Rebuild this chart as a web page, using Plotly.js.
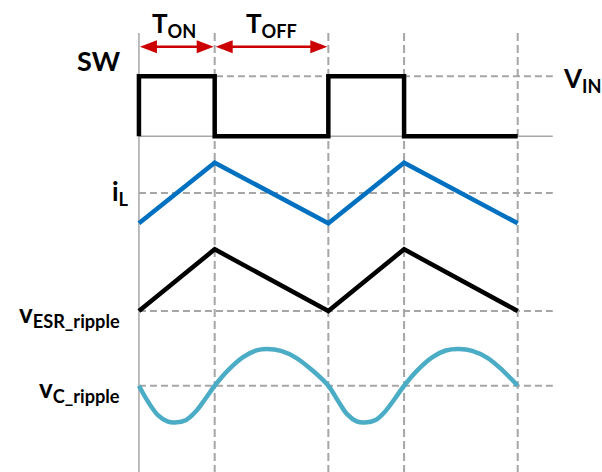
<!DOCTYPE html>
<html>
<head>
<meta charset="utf-8">
<script src="https://cdn.plot.ly/plotly-3.0.1.min.js"></script>
<style>html,body{margin:0;padding:0;background:#fff;}#chart{width:602px;height:472px;}</style>
</head>
<body>
<div id="chart"></div>
<script>
// ---- data ----
const switchTimes = [0, 0.4, 1.0, 1.4, 2.0];          // switching instants (T_ON = 0.4 of the period)
const swTime  = [0, 0, 0.4, 1.0, 1.4, 2.0];
const swLevel = [0, 1, 0, 1, 0, 0];                    // 1 = V_IN
const iLTime  = [0, 0.4, 1.0, 1.4, 2.0];
const iLValue = [0.8, 1.2, 0.8, 1.2, 0.8];
const esrTime = [0, 0.4, 1.0, 1.4, 2.0];
const esrValue = [0, 1, 0, 1, 0];
const vcTime  = [0, 0.05, 0.1, 0.15, 0.19, 0.25, 0.3, 0.35, 0.4, 0.47, 0.55, 0.62, 0.675, 0.75, 0.83, 0.92, 1.0,
                 1.05, 1.1, 1.15, 1.193, 1.25, 1.3, 1.35, 1.4, 1.47, 1.55, 1.62, 1.69, 1.76, 1.84, 1.92, 2.0];
const vcValue = [0, -0.45, -0.8, -0.97, -1, -0.93, -0.7, -0.36, 0, 0.42, 0.78, 0.96, 1, 0.95, 0.76, 0.4, 0,
                 -0.4, -0.78, -0.97, -1, -0.93, -0.7, -0.36, 0, 0.42, 0.78, 0.96, 1, 0.95, 0.76, 0.42, 0];
const refLevels = {sw: 1, iL: 1.0, esr: 0, vc: 0};    // dashed reference lines
const swLow = 0;
const lineEnd = 2.185;

// ---- layout geometry ----
const W = 602, H = 472;
const k = 189.5, x0px = 139;
const xRange = [-0.1, 2.35];
const L = x0px + xRange[0] * k;
const plotW = (xRange[1] - xRange[0]) * k;
const R = W - L - plotW;
function dom(v1, p1, v2, p2, lo, hi) {
  const m = (p1 - p2) / (v2 - v1);
  const pLo = p1 + (v1 - lo) * m, pHi = p1 - (hi - v1) * m;
  return [1 - pLo / H, 1 - pHi / H];
}
const px = x => (x - L) / plotW;
const py = y => 1 - y / H;

const FONT = 'Lato, "Open Sans", sans-serif';
const GRAY = '#A6A6A6';
const RED = '#CC0000';

const traces = [
  {x: swTime, y: swLevel, type: 'scatter', mode: 'lines', line: {shape: 'hv', color: '#000', width: 4.5}, xaxis: 'x', yaxis: 'y'},
  {x: iLTime, y: iLValue, type: 'scatter', mode: 'lines', line: {color: '#0070C0', width: 4.5}, xaxis: 'x', yaxis: 'y2'},
  {x: esrTime, y: esrValue, type: 'scatter', mode: 'lines', line: {color: '#000', width: 4.5}, xaxis: 'x', yaxis: 'y3'},
  {x: vcTime, y: vcValue, type: 'scatter', mode: 'lines', line: {shape: 'spline', smoothing: 1, color: '#4BACC6', width: 4.5}, xaxis: 'x', yaxis: 'y4'}
];

const hid = {visible: false, showgrid: false, zeroline: false, fixedrange: true};
const shapes = [];
// solid left axis and SW low line
shapes.push({type: 'line', xref: 'x', yref: 'paper', x0: switchTimes[0], x1: switchTimes[0], y0: py(33), y1: 0, line: {color: GRAY, width: 1.5}, layer: 'below'});
shapes.push({type: 'line', xref: 'x', yref: 'y', x0: switchTimes[0], x1: lineEnd, y0: swLow, y1: swLow, line: {color: GRAY, width: 1.5}, layer: 'below'});
// dashed verticals
switchTimes.slice(1).forEach(t => shapes.push({type: 'line', xref: 'x', yref: 'paper', x0: t, x1: t, y0: py(33), y1: 0, line: {color: GRAY, width: 2, dash: '8px,4px'}, layer: 'below'}));
// dashed horizontals
[['y', refLevels.sw], ['y2', refLevels.iL], ['y3', refLevels.esr], ['y4', refLevels.vc]].forEach(([ax, v]) =>
  shapes.push({type: 'line', xref: 'x', yref: ax, x0: switchTimes[0], x1: lineEnd, y0: v, y1: v, line: {color: GRAY, width: 2, dash: '7px,4px'}, layer: 'below'}));

// double arrows for T_ON and T_OFF (line + triangular heads)
const arrowY = py(46.7);
const headL = 17 / k, headH = 6.5 / H, gap = 1 / k;
[[switchTimes[0], switchTimes[1]], [switchTimes[1], switchTimes[2]]].forEach(([a, b]) => {
  const s = a + gap, e = b - gap;
  shapes.push({type: 'line', xref: 'x', yref: 'paper', x0: s + headL * 0.8, x1: e - headL * 0.8, y0: arrowY, y1: arrowY, line: {color: RED, width: 2.5}});
  shapes.push({type: 'path', xref: 'x', yref: 'paper', path: `M${s},${arrowY} L${s + headL},${arrowY + headH} L${s + headL},${arrowY - headH} Z`, fillcolor: RED, line: {width: 0}});
  shapes.push({type: 'path', xref: 'x', yref: 'paper', path: `M${e},${arrowY} L${e - headL},${arrowY + headH} L${e - headL},${arrowY - headH} Z`, fillcolor: RED, line: {width: 0}});
});

const ann = [];
function label(text, xp, yp, xanchor, size) {
  ann.push({text: text, xref: 'paper', yref: 'paper', x: px(xp), y: py(yp), xanchor: xanchor, yanchor: 'middle', showarrow: false, font: {family: FONT, size: size, color: '#000'}});
}
label('<b>SW</b>', 99, 61, 'center', 27);
label('<b>T<sub>ON</sub></b>', 150, 25, 'left', 26);
label('<b>T<sub>OFF</sub></b>', 244, 25, 'left', 26);
label('<b>V<sub>IN</sub></b>', 561, 79, 'left', 26);
label('<b>i<sub>L</sub></b>', 131, 192, 'right', 26);
label('<b>v<sub>ESR_ripple</sub></b>', 122, 314, 'right', 26);
label('<b>v<sub>C_ripple</sub></b>', 122, 389, 'right', 26);

const layout = {
  width: W, height: H, autosize: false,
  margin: {l: L, r: R, t: 0, b: 0, pad: 0},
  paper_bgcolor: '#fff', plot_bgcolor: 'rgba(0,0,0,0)',
  showlegend: false,
  xaxis: Object.assign({range: xRange, anchor: 'y'}, hid),
  yaxis: Object.assign({range: [-0.15, 1.15], domain: dom(0, 136.3, 1, 76.3, -0.15, 1.15)}, hid),
  yaxis2: Object.assign({range: [0.7, 1.3], domain: dom(0.8, 223.3, 1.2, 162.7, 0.7, 1.3)}, hid),
  yaxis3: Object.assign({range: [-0.15, 1.15], domain: dom(0, 311, 1, 249.3, -0.15, 1.15)}, hid),
  yaxis4: Object.assign({range: [-1.2, 1.2], domain: dom(-1, 422.5, 1, 349, -1.2, 1.2)}, hid),
  shapes: shapes,
  annotations: ann
};
Plotly.newPlot('chart', traces, layout, {staticPlot: true, displayModeBar: false});
</script>
</body>
</html>
